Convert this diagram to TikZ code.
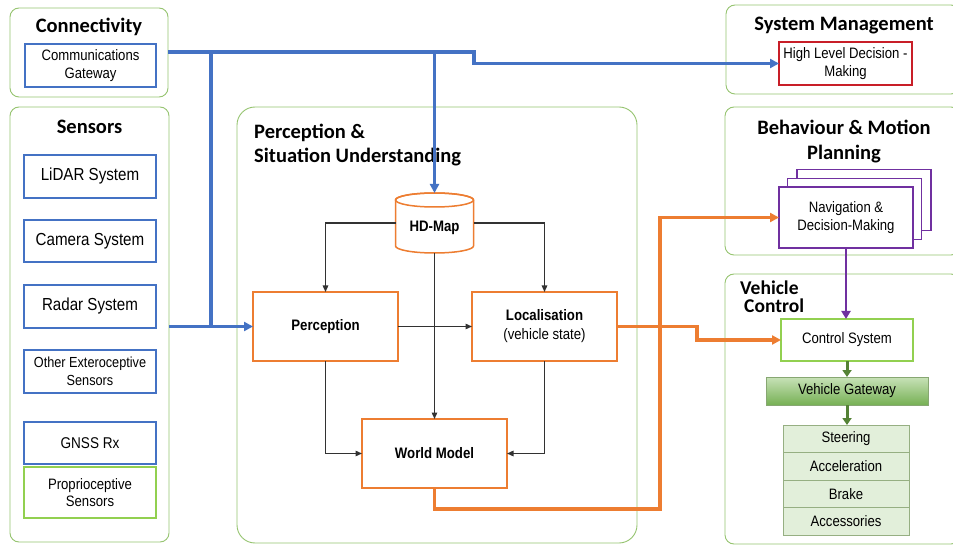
\documentclass[tikz,border=0pt]{standalone}
\usepackage{fontspec}
\setmainfont{Liberation Sans}[FakeStretch=0.87]
\newfontfamily\hdrfont{Carlito}
\usetikzlibrary{arrows.meta,calc}

\definecolor{contgreen}{RGB}{150,196,112}
\definecolor{bblue}{RGB}{68,114,196}
\definecolor{orng}{RGB}{237,125,49}
\definecolor{purp}{RGB}{112,48,160}
\definecolor{redb}{RGB}{200,30,40}
\definecolor{darkg}{RGB}{50,50,50}
\definecolor{ltgreen}{RGB}{146,208,80}
\definecolor{dgreen}{RGB}{84,130,53}
\definecolor{gwtop}{RGB}{200,226,184}
\definecolor{gwbot}{RGB}{118,176,84}
\definecolor{rowfill}{RGB}{226,239,218}
\definecolor{rowedge}{RGB}{150,175,130}

\tikzset{
  cont/.style={draw=contgreen, line width=0.9pt, rounded corners=9pt, inner sep=0pt, outer sep=0pt},
  hdr/.style={font=\hdrfont\bfseries\fontsize{20.5}{24}\selectfont, inner sep=0pt},
  txt/.style={font=\fontsize{15.1}{17.5}\selectfont, align=center},
  bigtxt/.style={font=\fontsize{17.4}{20}\selectfont, align=center},
  txtb/.style={font=\bfseries\fontsize{15.2}{18}\selectfont, align=center},
  bbox/.style={draw=bblue, line width=1.3pt, fill=white, inner sep=0pt, outer sep=0pt,
    minimum width=132pt, minimum height=43pt},
  obox/.style={draw=orng, line width=1.5pt, fill=white, inner sep=0pt, outer sep=0pt,
    minimum width=145pt, minimum height=69pt},
  pbox/.style={draw=purp, line width=1.5pt, fill=white, inner sep=0pt, outer sep=0pt,
    minimum width=134pt, minimum height=61pt},
  rowbox/.style={txt, draw=rowedge, line width=0.8pt, fill=rowfill, inner sep=0pt, outer sep=0pt,
    minimum width=126pt, minimum height=27.5pt},
  bline/.style={draw=bblue, line width=3.2pt},
  barr/.style={bline, -{Triangle[length=9pt,width=9pt]}},
  darr/.style={draw=darkg, line width=1.3pt, -{Triangle[length=6.5pt,width=5.5pt]}},
  oarr/.style={draw=orng, line width=3.2pt, -{Triangle[length=9pt,width=9pt]}},
  parr/.style={draw=purp, line width=2.8pt, -{Triangle[length=8pt,width=9pt]}},
  garr/.style={draw=dgreen, line width=3pt, -{Triangle[length=7pt,width=9pt]}},
}

\begin{document}
\begin{tikzpicture}[x=1pt,y=-1pt]
\clip (0,0) rectangle (953,545);
\fill[white] (0,0) rectangle (953,545);

% ---- group frames ----
\node[cont, minimum width=158pt, minimum height=89pt] (connC) at (89,52.5) {};
\node[cont, minimum width=159pt, minimum height=435pt] (sensC) at (89.5,324.5) {};
\node[cont, rounded corners=18pt, minimum width=400pt, minimum height=436pt] (percC) at (437,325) {};
\node[cont, minimum width=234pt, minimum height=89pt] (sysC) at (843,49.5) {};
\node[cont, minimum width=235pt, minimum height=148pt] (behC) at (842.5,181) {};
\node[cont, minimum width=235pt, minimum height=270pt] (vehC) at (842.5,409) {};

% ---- group titles ----
\node[hdr, anchor=base] (tConn) at (89,33) {Connectivity};
\node[hdr, anchor=base] (tSens) at (89.5,134) {Sensors};
\node[hdr, anchor=base] (tSys) at (844,31) {System Management};
\node[hdr, anchor=base west] (tPerc1) at (254,139) {Perception \&};
\node[hdr, anchor=base west] (tPerc2) at (254,163) {Situation Understanding};
\node[hdr, anchor=base] (tBeh1) at (844,135) {Behaviour \& Motion};
\node[hdr, anchor=base] (tBeh2) at (844,160) {Planning};
\node[hdr, font=\hdrfont\bfseries\fontsize{19.5}{18}\selectfont, align=left, anchor=north west]
  (tVeh) at (740,281) {Vehicle\\\hspace*{4pt}Control};

% ---- connectivity and sensors ----
\node[bbox, txt, minimum width=131pt] (comm) at (90.5,65.5) {Communications\\Gateway};
\node[bbox, bigtxt] (lidar) at (90,176.5) {LiDAR System};
\node[bbox, bigtxt, minimum height=42pt] (camera) at (90,241) {Camera System};
\node[bbox, bigtxt] (radar) at (90,306.5) {Radar System};
\node[bbox, font=\fontsize{14.6}{18}\selectfont, align=center] (other) at (90,371.5) {Other Exteroceptive\\Sensors};
\node[bbox, font=\fontsize{15.6}{18}\selectfont, minimum height=42pt] (gnss) at (90,443) {GNSS Rx};
\node[bbox, txt, draw=ltgreen, minimum height=51pt] (proprio) at (90,492.5) {Proprioceptive\\Sensors};

% ---- system management ----
\node[bbox, txt, draw=redb, minimum width=133pt] (highlevel) at (845.5,63.5) {High Level Decision -\\Making};

% ---- perception & situation understanding ----
\node[inner sep=0pt, outer sep=0pt, minimum width=78pt, minimum height=60pt] (hdmap) at (434.5,223) {};
\draw[draw=orng, line width=1.5pt, fill=white]
  (395.5,200) -- (395.5,246) arc[start angle=180, end angle=360, x radius=39pt, y radius=7pt]
  -- (473.5,200) arc[start angle=0, end angle=180, x radius=39pt, y radius=7pt] -- cycle;
\draw[draw=orng, line width=1.5pt] (434.5,200) ellipse[x radius=39pt, y radius=7pt];
\node[txtb] (hdlabel) at (434.5,228) {HD-Map};

\node[obox, txtb] (perc) at (325.5,326.5) {Perception};
\node[obox, txtb] (loc) at (544.5,326.5) {Localisation\\[1pt]{\mdseries (vehicle\ state)}};
\node[obox, txtb] (world) at (434.5,453.5) {World Model};

% ---- behaviour & motion planning ----
\node[pbox] (navB) at (864,200) {};
\node[pbox] (navM) at (854.5,209) {};
\node[pbox, txt] (nav) at (846,217.5) {Navigation \&\\Decision-Making};

% ---- vehicle control ----
\node[bbox, txt, draw=ltgreen, minimum width=132pt, minimum height=42pt] (ctrl) at (847,340) {Control System};
\node[txt, draw=dgreen!70, line width=0.8pt, top color=gwtop, bottom color=gwbot,
  inner sep=0pt, outer sep=0pt, minimum width=162pt, minimum height=28pt] (gateway) at (847,391) {Vehicle Gateway};
\node[rowbox] (steer) at (846,438.75) {Steering};
\node[rowbox] (accel) at (846,466.25) {Acceleration};
\node[rowbox] (brake) at (846,493.75) {Brake};
\node[rowbox] (acc) at (846,521.25) {Accessories};

% ---- blue communication bus ----
\coordinate (busY) at (0,52);
\coordinate (stepX) at (474,0);
\coordinate (j1) at (211,52);
\draw[barr] (connC.east |- busY) -- (stepX |- busY) -- (stepX |- highlevel.west) -- (highlevel.west);
\draw[bline] (j1) -- (j1 |- perc.west);
\draw[barr] (hdmap.north |- busY) -- (hdmap.north);
\draw[barr] (sensC.east |- perc.west) -- (perc.west);

% ---- internal data flow ----
\draw[darr] (hdmap.west) -| (perc.north);
\draw[darr] (hdmap.east) -| (loc.north);
\draw[darr] (hdmap.south) -- (world.north);
\draw[darr] (perc.east) -- (loc.west);
\draw[darr] (perc.south) |- (world.west);
\draw[darr] (loc.south) |- (world.east);

% ---- outputs to planning and control ----
\coordinate (o1) at (660,509);
\coordinate (o2) at (697,0);
\draw[oarr] (world.south) |- (o1) |- (nav.west);
\draw[oarr] (loc.east) -- (loc.east -| o2) |- (ctrl.west);
\draw[parr] (nav.south) -- (nav.south |- ctrl.north);
\draw[garr] (ctrl.south) -- (ctrl.south |- gateway.north);
\draw[garr] (gateway.south) -- (gateway.south |- steer.north);
\end{tikzpicture}
\end{document}
